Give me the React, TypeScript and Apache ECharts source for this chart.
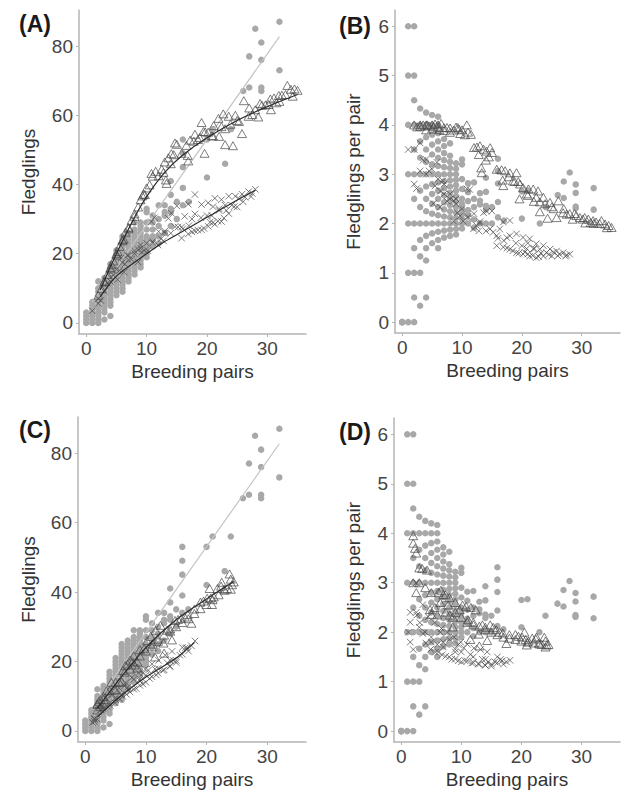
import React, { useEffect, useRef } from "react";
import * as echarts from "echarts";

// ---------- observed data (grey dots): breeding pairs and fledgling counts ----------
const obsPairCounts = [0, 1, 2, 3, 4, 5, 6, 7, 8, 9, 10, 11, 12, 13, 14, 15, 16, 17, 20, 21, 23, 24, 26, 27, 28, 29, 32];
const obsFledglingsAt: number[][] = [
  [0, 1, 2, 3],
  [0, 1, 2, 3, 4, 5, 6],
  [0, 1, 2, 3, 4, 5, 6, 7, 8, 9, 10, 12],
  [1, 3, 4, 5, 6, 7, 8, 9, 10, 11, 12, 13],
  [2, 5, 6, 7, 8, 9, 10, 11, 12, 13, 14, 15, 16, 17],
  [8, 9, 10, 11, 12, 13, 14, 15, 16, 17, 18, 19, 20, 21],
  [9, 10, 11, 12, 13, 14, 15, 16, 17, 18, 19, 20, 21, 22, 23, 24, 25],
  [12, 13, 14, 15, 16, 17, 18, 19, 20, 21, 22, 23, 24, 25, 26],
  [14, 15, 16, 17, 18, 19, 20, 21, 22, 23, 24, 25, 26, 27, 29],
  [16, 17, 18, 19, 20, 21, 22, 23, 24, 25, 26, 27, 28, 29],
  [19, 20, 21, 22, 23, 24, 25, 27, 29, 32, 33],
  [22, 24, 25, 27, 29, 31],
  [23, 25, 28, 30, 34],
  [26, 31, 32, 34],
  [28, 32, 33, 37, 41],
  [30, 35],
  [34, 39, 45, 49, 53],
  [35],
  [42, 53],
  [56],
  [46],
  [56],
  [67],
  [68, 77],
  [85],
  [67, 68, 76, 81],
  [73, 87],
];

// ---------- model 1 (panels A, B): [breeding pairs, fledglings] ----------
const modelATriangles: number[][] = [
  [2, 8.0], [2.5, 9.9], [3, 12.0], [3, 11.9], [3.5, 14.0], [4, 16.0], [4, 15.6], [4.2, 16.8], [4.5, 17.9], [5, 20.0],
  [5, 19.6], [5.2, 20.6], [5.5, 22.1], [6, 24.0], [6, 23.7], [6.2, 24.2], [6.5, 26.2], [7, 27.2], [7, 27.6], [7.5, 29.6],
  [8, 31.5], [8, 30.8], [8.6, 33.5], [9, 35.6], [9.3, 36.7], [9.5, 37.2], [9.7, 37.1], [10, 39.0], [10.5, 39.9],
  [10.8, 43.2], [11, 42.4], [11.5, 43.8], [12, 42.5], [12.5, 44.4], [12.8, 43.5], [13, 46.5], [13.6, 47.7], [14, 46.0],
  [14.1, 48.9], [14.5, 48.6], [14.7, 52.0], [15, 51.6], [13.2, 41.3], [13.3, 40.3], [15.8, 49.0], [16.6, 51.3],
  [17.2, 52.8], [17.8, 52.5], [18, 54.5], [18.5, 53.0], [18.8, 53.6], [19.1, 57.9], [16.8, 48.4], [16.9, 46.8],
  [19.4, 55.3], [19.7, 55.2], [20.2, 55.1], [20.8, 54.1], [21, 54.0], [21.1, 57.0], [21.9, 59.1], [22, 53.9],
  [22.7, 60.4], [19.6, 49.0], [22.4, 56.7], [23, 56.1], [23.6, 59.7], [23.9, 57.4], [24.3, 51.2], [24.7, 60.0],
  [25, 58.5], [25.3, 58.2], [26.1, 64.2], [23, 51.5], [25.8, 54.7], [26.9, 59.7], [27, 62.1], [27.5, 60.2], [28, 61.6],
  [28.5, 59.5], [28.8, 63.4], [29.1, 62.9], [29.7, 63.0], [30.2, 63.1], [30.5, 64.7], [30.6, 61.6], [31.1, 65.0],
  [31.5, 63.6], [31.9, 65.7], [32, 64.0], [32.4, 65.8], [33, 66.0], [33.3, 68.6], [33.9, 67.5], [34.2, 65.5],
  [34.5, 67.6], [35, 67.2],
];
const modelACrosses: number[][] = [
  [1, 3.5], [2, 7.0], [2, 5.6], [2.4, 6.5], [3, 10.9], [3, 9.2], [3.5, 11.5], [4, 13.2], [4, 12.0], [4.5, 13.8],
  [5, 15.5], [5.2, 12.5], [5.5, 15.2], [5.8, 18.8], [6, 17.4], [6.3, 14.7], [6.4, 17.0], [6.8, 19.5], [7, 18.2],
  [7, 19.6], [7.5, 18.4], [8, 20.0], [8, 20.8], [8.6, 21.2], [8.6, 17.6], [9, 22.5], [9, 21.6], [9.2, 20.4],
  [9.7, 20.9], [10, 23.0], [10.2, 20.9], [10.8, 29.2], [11, 23.5], [11, 23.1], [11.3, 30.4], [11.9, 22.5], [12, 26.4],
  [12.4, 24.3], [12.8, 23.7], [13, 26.5], [13, 26.0], [13.6, 30.2], [14, 25.9], [14.1, 31.7], [14.7, 27.8], [15, 33.8],
  [15.2, 27.7], [15.8, 27.7], [15.8, 24.5], [16, 27.2], [16.3, 30.8], [16.9, 34.3], [16.9, 25.7], [17, 28.1],
  [17.5, 30.0], [17.5, 26.3], [18, 37.1], [18, 26.6], [18, 31.5], [18.5, 26.8], [19, 30.4], [19.1, 26.9], [19.1, 34.2],
  [19.5, 27.3], [20, 31.0], [20.2, 27.9], [20.2, 34.7], [20.5, 29.1], [20.8, 31.0], [21, 29.0], [21, 33.6],
  [21.3, 28.5], [21.3, 36.0], [21.8, 29.4], [22, 32.5], [22, 33.0], [22.4, 29.3], [22.4, 35.6], [22.8, 30.3],
  [23, 34.0], [23.2, 32.5], [23.6, 31.6], [23.6, 36.6], [24.1, 34.0], [24.5, 33.6], [24.7, 36.6], [25, 33.5],
  [25.3, 35.9], [25.8, 37.2], [26, 35.0], [26.3, 36.3], [26.9, 37.9], [27.3, 36.5], [27.5, 37.4], [28, 38.6],
];

// ---------- model 2 (panels C, D): [breeding pairs, fledglings] ----------
const modelCTriangles: number[][] = [
  [2, 7.9], [2, 7.6], [2.3, 8.5], [2.5, 9.0], [2, 6.0], [2.5, 7.0], [3, 9.9], [3, 9.0], [3.5, 11.5], [4, 11.6],
  [4.3, 14.0], [4.8, 11.8], [5, 11.8], [5, 14.0], [5.6, 14.0], [6, 14.1], [6.2, 17.4], [6.5, 16.9], [6.6, 18.8],
  [7, 19.3], [7.4, 20.4], [7.8, 19.9], [8, 21.6], [7.4, 17.8], [8.1, 19.0], [8.6, 19.8], [8.6, 18.1], [9, 23.4],
  [9, 21.6], [9.7, 23.8], [10, 23.0], [10.2, 26.0], [10.8, 27.2], [11, 24.2], [11.6, 29.0], [12, 25.8], [12.4, 30.4],
  [11.1, 25.0], [12, 26.4], [12.9, 25.3], [11.5, 21.3], [13, 22.4], [13, 27.6], [13.5, 29.0], [14, 29.4], [14, 28.7],
  [14.8, 31.8], [15, 30.0], [15.3, 32.1], [15.8, 32.4], [16, 31.2], [16.4, 32.8], [16.9, 33.5], [17, 32.3], [18, 35.1],
  [18, 33.8], [19, 37.1], [19, 35.2], [19.5, 37.4], [20, 36.4], [20.1, 38.2], [20.5, 41.0], [20.7, 38.3], [21, 37.8],
  [21.2, 38.6], [21.8, 41.0], [22, 39.2], [22.4, 41.7], [22.5, 42.8], [22.9, 40.8], [23, 40.5], [23.4, 41.0],
  [23.8, 45.2], [24, 40.8], [24, 43.7], [24.2, 42.1], [24.5, 42.9], [14.3, 26.2], [17.5, 31.0], [20.9, 36.4],
];
const modelCCrosses: number[][] = [
  [1.5, 3.6], [1.5, 3.3], [1.2, 2.4], [1.5, 2.7], [2, 3.3], [2.5, 7.5], [2.5, 6.0], [2.6, 6.1], [3, 6.3], [3.1, 6.8],
  [3.6, 7.1], [3.6, 9.2], [4, 8.0], [4.1, 7.3], [4.5, 10.4], [4.9, 8.1], [5, 9.5], [5, 9.0], [5.6, 12.3], [5.7, 9.1],
  [6, 10.5], [6.2, 9.9], [6.5, 13.0], [6.7, 13.9], [6.8, 10.5], [7, 12.6], [7, 11.9], [7.4, 11.2], [7.7, 15.4],
  [8, 12.0], [8, 14.8], [8.4, 12.2], [8.8, 16.7], [9, 14.4], [9, 13.1], [9, 14.9], [9.5, 13.5], [9.5, 16.6],
  [9.9, 17.8], [10, 14.0], [10, 16.0], [10.4, 17.5], [10.6, 15.1], [11, 19.3], [11, 15.6], [11.5, 17.8], [11.7, 16.1],
  [12, 18.0], [12, 16.6], [12.1, 20.3], [12.8, 17.4], [13, 17.6], [13.2, 21.8], [13.5, 19.6], [13.9, 18.6], [14, 20.3],
  [14, 18.6], [14.3, 22.9], [14.5, 20.3], [15, 19.7], [15, 20.3], [15.6, 21.8], [16, 24.0], [16, 22.1], [16.5, 23.9],
  [16.8, 23.9], [17, 23.0], [17.5, 24.5], [18.1, 25.9],
];

// ---------- fitted lines ----------
const obsFitLine: number[][] = [[1, 6.1], [32, 82.7]];
const modelATriFit: number[][] = [[2.3, 9.5], [5, 20], [8, 30.5], [10, 36.5], [13, 43.5], [16, 48.5], [20, 53.5], [25, 58.5], [30, 62.5], [35, 66]];
const modelACrossFit: number[][] = [[2.3, 7.5], [5, 13.5], [8, 17.5], [10, 20], [13, 23.5], [16, 26.5], [20, 30.5], [24, 34.5], [28, 38.3]];
const modelCTriFit: number[][] = [[2, 6.5], [5, 13.5], [10, 24], [15, 32], [20, 38], [24.5, 43]];
const modelCCrossFit: number[][] = [[2, 4], [5, 8.8], [10, 15.5], [15, 21], [18, 25.5]];

// ---------- axes ----------
const xTicks = [0, 10, 20, 30];
const countTicks = [0, 20, 40, 60, 80];
const perPairTicks = [0, 1, 2, 3, 4, 5, 6];
const panelLabels = ["(A)", "(B)", "(C)", "(D)"];

const FONT = "'Liberation Sans', Arial, Helvetica, sans-serif";
const AXIS_COLOR = "#b4b4b4";
const DOT_COLOR = "#a8a8a8";
const MARK_COLOR = "#4a4a4a";
const CROSS_PATH = "path://M0,0L10,10M10,0L0,10";

const observedCounts = obsPairCounts.flatMap((p, i) => obsFledglingsAt[i].map((f) => [p, f]));
const observedPerPair = obsPairCounts.flatMap((p, i) => obsFledglingsAt[i].map((f) => [p, p === 0 ? 0 : f / p]));
const perPair = (pts: number[][]) => pts.map(([x, y]) => [x, y / x]);

function xAxisCfg(gridIndex: number) {
  return {
    type: "value",
    gridIndex,
    min: -1.2,
    max: 36.4,
    name: "Breeding pairs",
    nameLocation: "middle",
    nameGap: 28,
    nameTextStyle: { fontSize: 19, color: "#333", fontFamily: FONT },
    axisLine: { show: true, onZero: false, lineStyle: { color: AXIS_COLOR, width: 1.5 } },
    axisTick: { show: true, length: 3, customValues: xTicks, lineStyle: { color: AXIS_COLOR, width: 1 } },
    axisLabel: { customValues: xTicks, fontSize: 19, color: "#444", fontFamily: FONT, margin: 5 },
    splitLine: { show: false },
  };
}

function yAxisCfg(gridIndex: number, perPairAxis: boolean, nameGap: number) {
  return {
    type: "value",
    gridIndex,
    min: perPairAxis ? -0.22 : -3.2,
    max: perPairAxis ? 6.33 : 90.4,
    name: perPairAxis ? "Fledglings per pair" : "Fledglings",
    nameLocation: "middle",
    nameGap,
    nameTextStyle: { fontSize: 19, color: "#333", fontFamily: FONT },
    axisLine: { show: true, onZero: false, lineStyle: { color: AXIS_COLOR, width: 1.5 } },
    axisTick: { show: true, length: 3, customValues: perPairAxis ? perPairTicks : countTicks, lineStyle: { color: AXIS_COLOR, width: 1 } },
    axisLabel: { customValues: perPairAxis ? perPairTicks : countTicks, fontSize: 19, color: "#444", fontFamily: FONT, margin: 6 },
    splitLine: { show: false },
  };
}

function scatter(idx: number, data: number[][], kind: "dot" | "tri" | "cross", z: number) {
  const base: any = {
    type: "scatter",
    xAxisIndex: idx,
    yAxisIndex: idx,
    data,
    silent: true,
    z,
  };
  if (kind === "dot") {
    base.symbol = "circle";
    base.symbolSize = 6.5;
    base.itemStyle = { color: DOT_COLOR, opacity: 1 };
  } else if (kind === "tri") {
    base.symbol = "triangle";
    base.symbolSize = [9, 8];
    base.itemStyle = { color: "rgba(255,255,255,0)", borderColor: MARK_COLOR, borderWidth: 0.9 };
  } else {
    base.symbol = CROSS_PATH;
    base.symbolSize = 6.5;
    base.itemStyle = { color: "rgba(255,255,255,0)", borderColor: MARK_COLOR, borderWidth: 0.9 };
  }
  return base;
}

function line(idx: number, data: number[][], color: string, z: number) {
  return {
    type: "line",
    xAxisIndex: idx,
    yAxisIndex: idx,
    data,
    showSymbol: false,
    smooth: 0.3,
    silent: true,
    z,
    lineStyle: { color, width: 1.2 },
  };
}

export default function App() {
  const ref = useRef<HTMLDivElement>(null);
  useEffect(() => {
    if (!ref.current) return;
    const chart = echarts.init(ref.current, undefined, { renderer: "svg" });
    const option: any = {
      animation: false,
      backgroundColor: "#ffffff",
      textStyle: { fontFamily: FONT },
      grid: [
        { left: 79, top: 10, width: 227, height: 324 },
        { left: 395, top: 10, width: 225, height: 323 },
        { left: 78, top: 417, width: 228, height: 325 },
        { left: 394, top: 418, width: 226, height: 324 },
      ],
      xAxis: [xAxisCfg(0), xAxisCfg(1), xAxisCfg(2), xAxisCfg(3)],
      yAxis: [yAxisCfg(0, false, 41), yAxisCfg(1, true, 32), yAxisCfg(2, false, 40), yAxisCfg(3, true, 31)],
      series: [
        // A
        scatter(0, observedCounts, "dot", 2),
        line(0, obsFitLine, "#c4c4c4", 3),
        scatter(0, modelATriangles, "tri", 4),
        scatter(0, modelACrosses, "cross", 4),
        line(0, modelATriFit, "#2b2b2b", 5),
        line(0, modelACrossFit, "#2b2b2b", 5),
        // B
        scatter(1, observedPerPair, "dot", 2),
        scatter(1, perPair(modelATriangles), "tri", 4),
        scatter(1, perPair(modelACrosses), "cross", 4),
        // C
        scatter(2, observedCounts, "dot", 2),
        line(2, obsFitLine, "#c4c4c4", 3),
        scatter(2, modelCTriangles, "tri", 4),
        scatter(2, modelCCrosses, "cross", 4),
        line(2, modelCTriFit, "#2b2b2b", 5),
        line(2, modelCCrossFit, "#2b2b2b", 5),
        // D
        scatter(3, observedPerPair, "dot", 2),
        scatter(3, perPair(modelCTriangles), "tri", 4),
        scatter(3, perPair(modelCCrosses), "cross", 4),
      ],
      graphic: [
        { x: 35, y: 24, label: panelLabels[0] },
        { x: 355, y: 26, label: panelLabels[1] },
        { x: 35, y: 430, label: panelLabels[2] },
        { x: 355, y: 432, label: panelLabels[3] },
      ].map((g) => ({
        type: "text",
        x: g.x,
        y: g.y,
        silent: true,
        style: {
          text: g.label,
          fontSize: 23,
          fontWeight: "bold",
          fontFamily: FONT,
          fill: "#1a1a1a",
          textAlign: "center",
          textVerticalAlign: "middle",
          align: "center",
          verticalAlign: "middle",
        },
      })),
    };
    chart.setOption(option);
    return () => chart.dispose();
  }, []);
  return <div ref={ref} style={{ position: "absolute", left: 0, top: 0, width: 621, height: 792 }} />;
}
